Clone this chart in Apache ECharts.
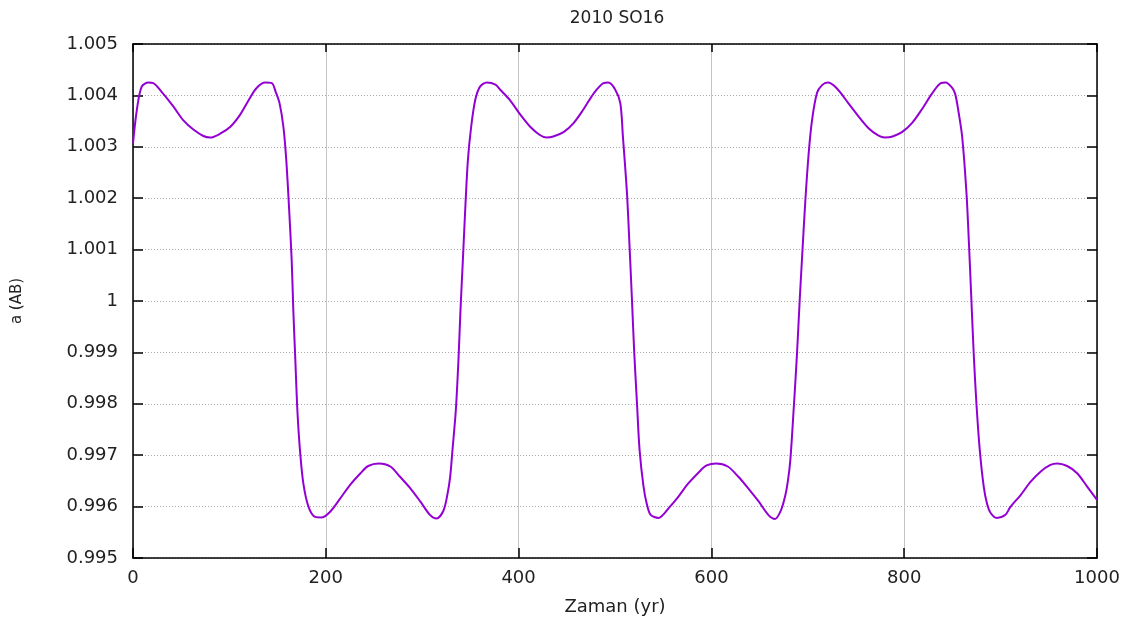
<!DOCTYPE html>
<html>
<head>
<meta charset="utf-8">
<script src="https://cdn.jsdelivr.net/npm/echarts@6/dist/echarts.min.js"></script>
<style>
  html, body { margin: 0; padding: 0; background: #fff; }
  #chart { width: 1148px; height: 622px; }
</style>
</head>
<body>
<div id="chart"></div>
<script>
// Semi-major axis of 2010 SO16 over time
const years = [
  0, 4, 9, 16, 21, 31, 42, 52, 63, 73, 80, 90, 101, 111, 121, 128, 137, 144, 148, 152,
  156, 159, 162, 164.6, 166.3, 168.4, 170.5, 173.2, 176.7, 182, 189, 196, 204.5, 215, 225,
  236, 244, 255, 267, 277, 287.5, 298, 308, 315, 322, 326, 329, 331.4, 334.9, 337.6,
  339.7, 342.2, 344.6, 347.4, 350.8, 355, 360, 367, 376, 381, 391, 402, 412, 422, 429,
  436, 447, 457, 467, 478, 488, 493, 500, 505.5, 508.2, 512.4, 515.1, 517.6, 520, 522.8,
  525.5, 529.6, 533, 537, 545, 557, 566, 576, 587, 595, 605, 617, 628, 638, 649, 659,
  666, 672, 676.7, 679.5, 681.9, 685.3, 688.8, 691.6, 694.7, 697.5, 700.9, 704.4, 709.6, 714.8,
  720.6, 730, 742, 753, 763, 773, 780, 788, 798, 808, 818, 829, 838, 843, 850, 853, 856,
  860.1, 864.6, 867.3, 869.7, 872.1, 874.9, 878.4, 882.5, 886, 889.5, 896, 905, 910,
  920.6, 931, 941.4, 951.7, 958.7, 969, 979.4, 989.8, 1000
];
const semiMajor = [
  1.00307, 1.00372, 1.00417, 1.00425, 1.00424, 1.00404, 1.00378, 1.00352, 1.00333, 1.00321,
  1.00318, 1.00325, 1.00339, 1.00362, 1.00394, 1.00414, 1.00425, 1.00424, 1.00407, 1.00385,
  1.00339, 1.00274, 1.00177, 1.0008, 0.99982, 0.99885, 0.99788, 0.9971, 0.99645, 0.996,
  0.9958, 0.99579, 0.9959, 0.99616, 0.99642, 0.99665, 0.99679, 0.99684, 0.99678, 0.99658,
  0.99636, 0.9961, 0.99584, 0.99577, 0.99592, 0.99622, 0.99658, 0.9971, 0.99788, 0.99885,
  0.99982, 1.0008, 1.00177, 1.00274, 1.00339, 1.00391, 1.00417, 1.00425, 1.00421, 1.00411,
  1.00391, 1.00362, 1.00339, 1.00323, 1.00318, 1.0032, 1.00329, 1.00346, 1.00372, 1.00404,
  1.00424, 1.00425, 1.00412, 1.00385, 1.0032, 1.0021, 1.00106, 1.00002, 0.99898, 0.99801,
  0.9971, 0.99639, 0.99605, 0.99584, 0.99578, 0.996, 0.9962, 0.99645, 0.99667, 0.9968,
  0.99684, 0.99678, 0.99658, 0.99636, 0.9961, 0.99584, 0.99576, 0.99592, 0.99622, 0.99652, 0.99691,
  0.99788, 0.99898, 1.00002, 1.00106, 1.00197, 1.00287, 1.00352, 1.00405, 1.0042, 1.00425,
  1.00414, 1.00385, 1.00358, 1.00336, 1.00322, 1.00318, 1.0032, 1.00329, 1.00346, 1.00372,
  1.00404, 1.00424, 1.00425, 1.00414, 1.00402, 1.00372, 1.0032, 1.0021, 1.00106, 1.00002,
  0.99898, 0.99801, 0.9971, 0.99639, 0.99605, 0.99588, 0.99578, 0.99584, 0.99599, 0.99622,
  0.99648, 0.99668, 0.99681, 0.99684, 0.99679, 0.99665, 0.99639, 0.99613
];

const chart = echarts.init(document.getElementById('chart'));
const font = 'DejaVu Sans';
const ink = '#222';

const tickIn = { show: true, inside: true, length: 10, lineStyle: { color: '#000', width: 1.5 } };
const frame = { show: true, onZero: false, lineStyle: { color: '#000', width: 1.5 } };

chart.setOption({
  animation: false,
  title: {
    text: '2010 SO16',
    left: 612,
    top: 5,
    textAlign: 'center',
    textStyle: { fontFamily: font, fontSize: 17, fontWeight: 'normal', color: ink }
  },
  grid: { left: 133, right: 51, top: 44, bottom: 64 },
  xAxis: [
    {
      type: 'value', min: 0, max: 1000, interval: 200,
      name: 'Zaman (yr)', nameLocation: 'middle', nameGap: 40,
      nameTextStyle: { fontFamily: font, fontSize: 18, color: ink },
      axisLine: frame, axisTick: tickIn,
      splitLine: { show: true, lineStyle: { color: '#c4c4c4', width: 1 } },
      axisLabel: {
        fontFamily: font, fontSize: 18, color: ink, margin: 11,
        formatter: function (v) { return String(v); }
      }
    },
    {
      type: 'value', position: 'top', min: 0, max: 1000, interval: 200,
      axisLine: frame, axisTick: Object.assign({}, tickIn, { length: 8 }),
      splitLine: { show: false }, axisLabel: { show: false }
    }
  ],
  yAxis: [
    {
      type: 'value', min: 0.995, max: 1.005, interval: 0.001,
      name: 'a (AB)', nameLocation: 'middle', nameGap: 108,
      nameTextStyle: { fontFamily: font, fontSize: 15, color: ink },
      axisLine: frame, axisTick: tickIn,
      splitLine: { show: true, lineStyle: { color: '#aaa', type: [1, 2], width: 1 } },
      axisLabel: {
        fontFamily: font, fontSize: 18, color: ink, margin: 15,
        formatter: function (v) { return String(parseFloat(v.toFixed(3))); }
      }
    },
    {
      type: 'value', position: 'right', min: 0.995, max: 1.005, interval: 0.001,
      axisLine: frame, axisTick: tickIn,
      splitLine: { show: false }, axisLabel: { show: false }
    }
  ],
  series: [{
    type: 'line',
    data: years.map(function (x, i) { return [x, semiMajor[i]]; }),
    showSymbol: false,
    smooth: 0.3,
    lineStyle: { color: '#9400d3', width: 2 }
  }]
});
</script>
</body>
</html>
